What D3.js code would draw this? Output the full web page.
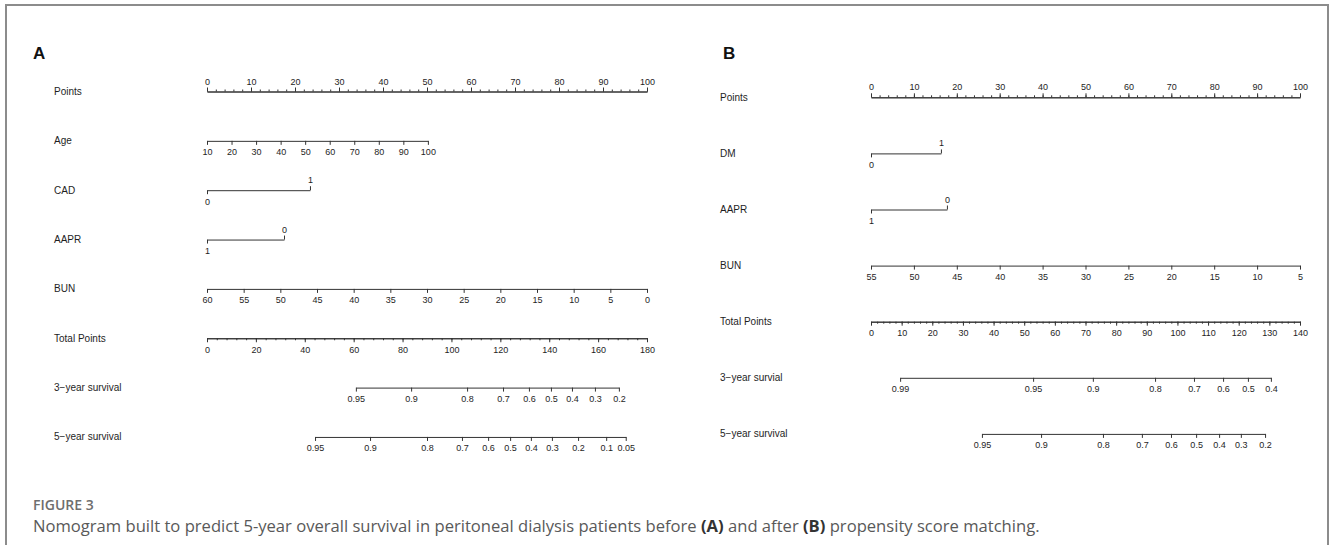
<!DOCTYPE html>
<html>
<head>
<meta charset="utf-8">
<script src="https://cdn.jsdelivr.net/npm/d3@7"></script>
<style>
body { margin: 0; background: #fff; }
svg text { font-family: "Liberation Sans", Arial, sans-serif; }
.axis path, .axis line { stroke: #333; stroke-width: 1; }
.axis text { fill: #1e1e1e; font-size: 9px; font-family: "Liberation Sans", Arial, sans-serif; }
.rowlab { font-size: 10px; fill: #1e1e1e; }
.letter { font-size: 17px; font-weight: bold; fill: #111; }
.fig { font-family: "Open Sans", sans-serif !important; font-size: 14px; font-weight: 600; fill: #6e6e6e; }
.cap { font-family: "Open Sans", sans-serif !important; font-size: 16.6px; fill: #595959; }
</style>
</head>
<body>
<svg></svg>
<script>
// ---- panel A: before propensity score matching ----
let aRows = ["Points", "Age", "CAD", "AAPR", "BUN", "Total Points", "3\u2212year survival", "5\u2212year survival"]
let aPointsTicks = [0, 10, 20, 30, 40, 50, 60, 70, 80, 90, 100]
let aAgeTicks = [10, 20, 30, 40, 50, 60, 70, 80, 90, 100]
let aAgePts = [0, 50.2]          // points given to age 10 and age 100
let aCadLevels = ["0", "1"]
let aCadPts = [0, 23.4]
let aAaprLevels = ["1", "0"]
let aAaprPts = [0, 17.5]
let aBunTicks = [60, 55, 50, 45, 40, 35, 30, 25, 20, 15, 10, 5, 0]
let aBunPts = [0, 100]
let aTotalTicks = [0, 20, 40, 60, 80, 100, 120, 140, 160, 180]
let aSurv3 = [0.95, 0.9, 0.8, 0.7, 0.6, 0.5, 0.4, 0.3, 0.2]
let aSurv3Tot = [60.9, 83.5, 106.4, 121.1, 131.7, 140.7, 149.3, 158.7, 168.5]
let aSurv5 = [0.95, 0.9, 0.8, 0.7, 0.6, 0.5, 0.4, 0.3, 0.2, 0.1, 0.05]
let aSurv5Tot = [44.2, 66.7, 90.0, 104.3, 115.0, 124.0, 132.5, 141.1, 151.8, 163.3, 171.3]

// ---- panel B: after propensity score matching ----
let bRows = ["Points", "DM", "AAPR", "BUN", "Total Points", "3\u2212year survial", "5\u2212year survival"]
let bPointsTicks = [0, 10, 20, 30, 40, 50, 60, 70, 80, 90, 100]
let bDmLevels = ["0", "1"]
let bDmPts = [0, 16.3]
let bAaprLevels = ["1", "0"]
let bAaprPts = [0, 17.7]
let bBunTicks = [55, 50, 45, 40, 35, 30, 25, 20, 15, 10, 5]
let bBunPts = [0, 100]
let bTotalTicks = [0, 10, 20, 30, 40, 50, 60, 70, 80, 90, 100, 110, 120, 130, 140]
let bSurv3 = [0.99, 0.95, 0.9, 0.8, 0.7, 0.6, 0.5, 0.4]
let bSurv3Tot = [9.5, 52.9, 72.4, 92.7, 105.4, 114.9, 123.0, 130.5]
let bSurv5 = [0.95, 0.9, 0.8, 0.7, 0.6, 0.5, 0.4, 0.3, 0.2]
let bSurv5Tot = [36.2, 55.5, 75.7, 88.4, 97.9, 106.1, 113.6, 120.7, 128.6]

let captionTitle = "FIGURE 3"
let captionParts = [
    ["Nomogram built to predict 5-year overall survival in peritoneal dialysis patients before ", false],
    ["(A)", true], [" and after ", false], ["(B)", true],
    [" propensity score matching.", false]
]

var svg = d3.select("svg")
    .attr("width", 1330)
    .attr("height", 545)

// frame round the figure (bottom edge is cut off in the original)
svg.append("path")
    .attr("d", "M6,560 V5 H1328 V560")
    .attr("fill", "none")
    .attr("stroke", "#8c8c8c")
    .attr("stroke-width", 2)

function minorTicks(major) {
    let step = (major[1] - major[0]) / 5
    let lo = d3.min(major), hi = d3.max(major)
    return d3.range(lo, hi + step / 2, step)
}

function drawPanel(p, lay) {
    let g = svg.append("g")
    let ptsX = d3.scaleLinear().domain([0, 100]).range([lay.x0, lay.x1])
    let totX = d3.scaleLinear().domain(d3.extent(p.totalTicks)).range([lay.x0, lay.x1])
    let rowY = i => lay.y0 + i * lay.dy

    g.append("text").attr("class", "letter")
        .attr("x", lay.letterX).attr("y", 59).text(p.letter)

    g.selectAll(".rowlab").data(p.rows).enter().append("text")
        .attr("class", "rowlab")
        .attr("x", lay.labelX)
        .attr("y", (d, i) => rowY(i) + 3.5)
        .text(d => d)

    // Points scale on top
    g.append("g").attr("class", "axis")
        .attr("transform", `translate(0, ${rowY(0)})`)
        .call(d3.axisTop(ptsX).tickValues(minorTicks(p.pointsTicks)).tickSize(2).tickSizeOuter(0).tickFormat(""))
    g.append("g").attr("class", "axis")
        .attr("transform", `translate(0, ${rowY(0)})`)
        .call(d3.axisTop(ptsX).tickValues(p.pointsTicks).tickSize(4).tickSizeOuter(0).tickPadding(3))

    // predictor rows
    p.vars.forEach((v, k) => {
        let y = rowY(k + 1)
        if (v.levels) {
            let sc = d3.scaleOrdinal().domain(v.levels).range(v.pts.map(ptsX))
            g.append("g").attr("class", "axis")
                .attr("transform", `translate(0, ${y})`)
                .call(d3.axisBottom(sc).tickValues([v.levels[0]]).tickSize(4).tickSizeOuter(0).tickPadding(4))
            let up = g.append("g").attr("class", "axis")
                .attr("transform", `translate(0, ${y})`)
                .call(d3.axisTop(sc).tickValues([v.levels[1]]).tickSize(4).tickSizeOuter(0).tickPadding(3))
            up.select(".domain").remove()
        } else {
            let sc = d3.scaleLinear()
                .domain([v.ticks[0], v.ticks[v.ticks.length - 1]])
                .range(v.pts.map(ptsX))
            g.append("g").attr("class", "axis")
                .attr("transform", `translate(0, ${y})`)
                .call(d3.axisBottom(sc).tickValues(v.ticks).tickSize(4).tickSizeOuter(0).tickPadding(4))
        }
    })

    // Total points
    let nt = p.vars.length + 1
    g.append("g").attr("class", "axis")
        .attr("transform", `translate(0, ${rowY(nt)})`)
        .call(d3.axisBottom(totX).tickValues(minorTicks(p.totalTicks)).tickSize(2).tickSizeOuter(0).tickFormat(""))
    g.append("g").attr("class", "axis")
        .attr("transform", `translate(0, ${rowY(nt)})`)
        .call(d3.axisBottom(totX).tickValues(p.totalTicks).tickSize(4).tickSizeOuter(0).tickPadding(4))

    // survival probabilities, placed on the total points scale
    p.surv.forEach((s, k) => {
        let sc = d3.scaleLinear().domain(s.vals).range(s.tot.map(totX))
        g.append("g").attr("class", "axis")
            .attr("transform", `translate(0, ${rowY(nt + 1 + k)})`)
            .call(d3.axisBottom(sc).tickValues(s.vals).tickSize(4).tickSizeOuter(0).tickPadding(4)
                .tickFormat(d => String(d)))
    })
}

drawPanel({
    letter: "A", rows: aRows, pointsTicks: aPointsTicks, totalTicks: aTotalTicks,
    vars: [
        {ticks: aAgeTicks, pts: aAgePts},
        {levels: aCadLevels, pts: aCadPts},
        {levels: aAaprLevels, pts: aAaprPts},
        {ticks: aBunTicks, pts: aBunPts}
    ],
    surv: [{vals: aSurv3, tot: aSurv3Tot}, {vals: aSurv5, tot: aSurv5Tot}]
}, {x0: 207, x1: 647, y0: 91.5, dy: 49.35, labelX: 54, letterX: 33})

drawPanel({
    letter: "B", rows: bRows, pointsTicks: bPointsTicks, totalTicks: bTotalTicks,
    vars: [
        {levels: bDmLevels, pts: bDmPts},
        {levels: bAaprLevels, pts: bAaprPts},
        {ticks: bBunTicks, pts: bBunPts}
    ],
    surv: [{vals: bSurv3, tot: bSurv3Tot}, {vals: bSurv5, tot: bSurv5Tot}]
}, {x0: 871, x1: 1300, y0: 97.3, dy: 56.1, labelX: 720, letterX: 723})

// caption
svg.append("text").attr("class", "fig")
    .attr("x", 33).attr("y", 510)
    .text(captionTitle)

svg.append("text").attr("class", "cap")
    .attr("x", 33).attr("y", 532)
    .selectAll("tspan").data(captionParts).enter().append("tspan")
    .attr("font-weight", d => d[1] ? 700 : 400)
    .attr("fill", d => d[1] ? "#333" : null)
    .text(d => d[0])
</script>
</body>
</html>
